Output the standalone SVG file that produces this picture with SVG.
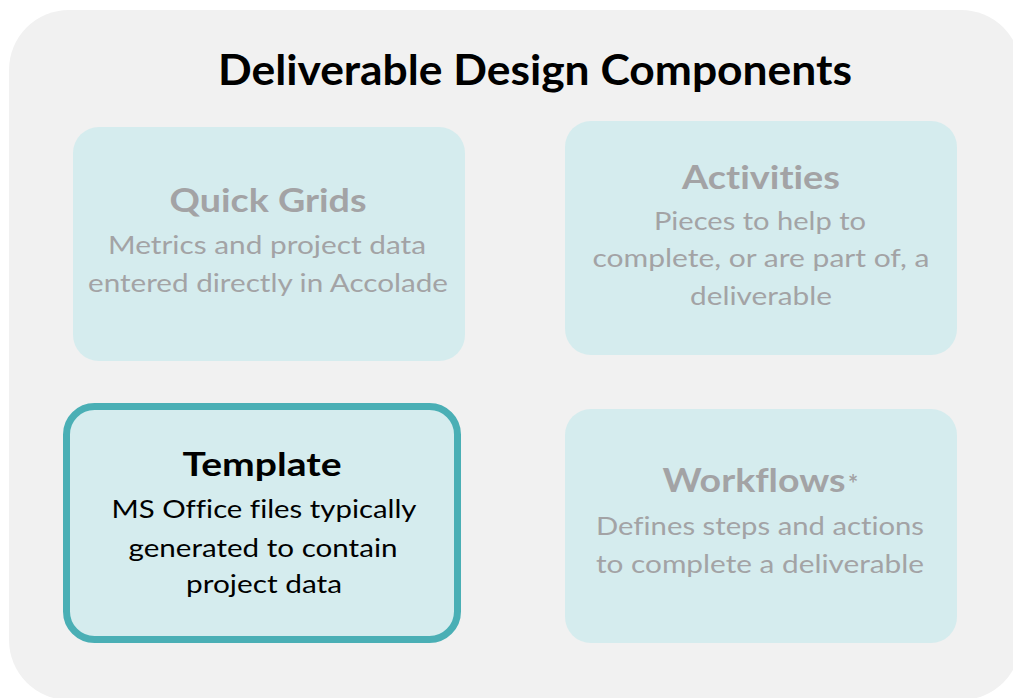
<svg xmlns="http://www.w3.org/2000/svg" width="1013" height="698" viewBox="0 0 1013 698">
<style>
text{font-family:Lato,"Open Sans","Liberation Sans",sans-serif;text-anchor:middle;font-variant-ligatures:none}
.title{font-size:42px;font-weight:bold;fill:#000}
.box{fill:#d5ecee}
.sel{fill:#d5ecee;stroke:#4aafb5;stroke-width:7}
.h{font-size:33px;font-weight:bold}
.b{font-size:25px}
.fade{fill:#a3a3a5}
.dark{fill:#000}
</style>
<rect x="9" y="10" width="1012" height="690" rx="60" fill="#f1f1f1"/>
<text class="title" x="535" y="85" textLength="634" lengthAdjust="spacingAndGlyphs">Deliverable Design Components</text>
<g id="quick-grids">
<rect class="box" x="73" y="127" width="392" height="234" rx="26"/>
<text class="h fade" x="268" y="212" textLength="197" lengthAdjust="spacingAndGlyphs">Quick Grids</text>
<text class="b fade" x="267" y="254" textLength="318" lengthAdjust="spacingAndGlyphs">Metrics and project data</text>
<text class="b fade" x="268" y="292" textLength="360" lengthAdjust="spacingAndGlyphs">entered directly in Accolade</text>
</g>
<g id="activities">
<rect class="box" x="565" y="121" width="392" height="234" rx="26"/>
<text class="h fade" x="761" y="189" textLength="158" lengthAdjust="spacingAndGlyphs">Activities</text>
<text class="b fade" x="760" y="230" textLength="212" lengthAdjust="spacingAndGlyphs">Pieces to help to</text>
<text class="b fade" x="761" y="267" textLength="337" lengthAdjust="spacingAndGlyphs">complete, or are part of, a</text>
<text class="b fade" x="761" y="305" textLength="142" lengthAdjust="spacingAndGlyphs">deliverable</text>
</g>
<g id="template">
<rect class="sel" x="66.5" y="406.5" width="391" height="233" rx="28"/>
<text class="h dark" x="262" y="476" textLength="159" lengthAdjust="spacingAndGlyphs">Template</text>
<text class="b dark" x="264" y="518" textLength="305" lengthAdjust="spacingAndGlyphs">MS Office files typically</text>
<text class="b dark" x="263" y="557" textLength="269" lengthAdjust="spacingAndGlyphs">generated to contain</text>
<text class="b dark" x="264" y="593" textLength="156" lengthAdjust="spacingAndGlyphs">project data</text>
</g>
<g id="workflows">
<rect class="box" x="565" y="409" width="392" height="234" rx="26"/>
<text class="h fade" x="754" y="492" textLength="183" lengthAdjust="spacingAndGlyphs">Workflows</text>
<text class="fade" x="853" y="493" font-size="24" font-weight="bold">*</text>
<text class="b fade" x="760" y="535" textLength="328" lengthAdjust="spacingAndGlyphs">Defines steps and actions</text>
<text class="b fade" x="760" y="573" textLength="328" lengthAdjust="spacingAndGlyphs">to complete  a deliverable</text>
</g>
<g id="connectors"/>
</svg>
